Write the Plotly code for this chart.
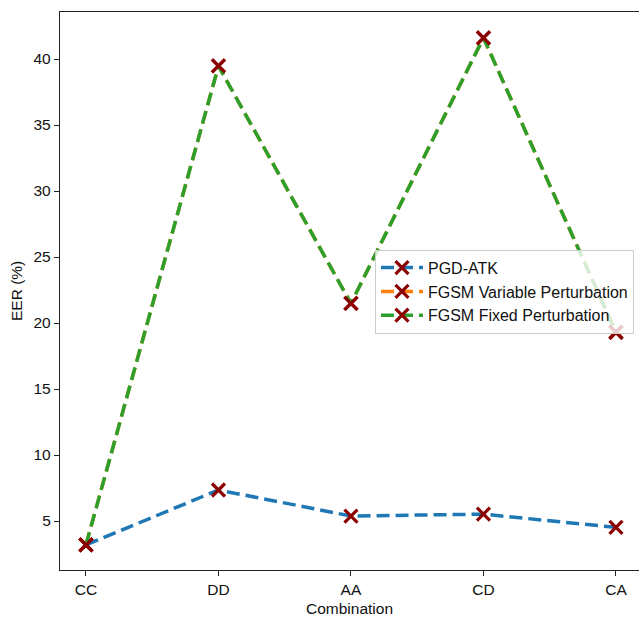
import plotly.graph_objects as go

categories = ["CC", "DD", "AA", "CD", "CA"]
pgd_atk = [3.2, 7.35, 5.38, 5.52, 4.52]
fgsm_variable = [3.2, 39.47, 21.48, 41.6, 19.3]
fgsm_fixed = [3.2, 39.47, 21.48, 41.6, 19.3]
series_names = ["PGD-ATK", "FGSM Variable Perturbation", "FGSM Fixed Perturbation"]
y_ticks = [5, 10, 15, 20, 25, 30, 35, 40]

colors = ["#1f77b4", "#ff7f0e", "#2ca02c"]
FONT = "Liberation Sans, Arial, Helvetica, sans-serif"

fig = go.Figure()
for name, vals, col in zip(series_names, [pgd_atk, fgsm_variable, fgsm_fixed], colors):
    fig.add_trace(go.Scatter(
        x=list(range(len(categories))), y=vals, name=name,
        mode="lines+markers",
        line=dict(color=col, width=3.5, dash="13px,6px"),
        marker=dict(symbol="x-thin", size=13, color="#8b0000",
                    line=dict(color="#8b0000", width=3.2)),
    ))

fig.update_layout(
    width=639, height=617,
    margin=dict(l=60, r=0, t=12, b=47),
    plot_bgcolor="white", paper_bgcolor="white",
    font=dict(family=FONT, size=15.5, color="#111111"),
    showlegend=True,
    legend=dict(
        x=0.544, y=0.574, xanchor="left", yanchor="top",
        bgcolor="rgba(255,255,255,0.8)", bordercolor="#cccccc", borderwidth=1,
        font=dict(family=FONT, size=16, color="#111111"),
        itemwidth=42,
    ),
    xaxis=dict(
        range=[-0.196, 4.174], tickmode="array",
        tickvals=list(range(len(categories))), ticktext=categories,
        showgrid=False, zeroline=False, automargin=False,
        showline=True, linecolor="#222222", linewidth=1.3, mirror=True,
        ticks="outside", ticklen=5, tickwidth=1, tickcolor="#222222",
        title=dict(text="Combination", font=dict(size=15.5)),
    ),
    yaxis=dict(
        range=[1.29, 43.56], tickvals=y_ticks,
        showgrid=False, zeroline=False, automargin=False,
        showline=True, linecolor="#222222", linewidth=1.3, mirror=False,
        ticks="outside", ticklen=5, tickwidth=1, tickcolor="#222222",
    ),
    annotations=[dict(
        text="EER (%)", xref="paper", yref="paper",
        x=-0.076, y=0.5, xanchor="center", yanchor="middle",
        textangle=-90, showarrow=False, font=dict(size=15.5),
    )],
)

fig.write_html("out.html", config={"displayModeBar": False},
               post_script="document.body.style.margin='0';")
